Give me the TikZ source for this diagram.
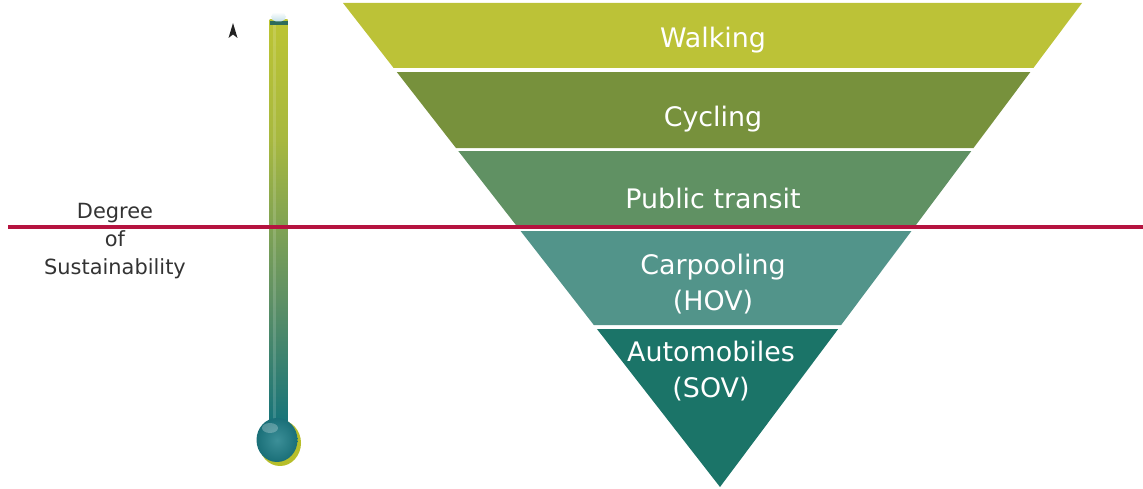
\documentclass[tikz,border=0pt]{standalone}
\usepackage{fontspec}
\setmainfont{DejaVu Sans}
\usetikzlibrary{calc}
\definecolor{cwalk}{HTML}{BCC237}
\definecolor{ccyc}{HTML}{77913C}
\definecolor{cpub}{HTML}{609163}
\definecolor{ccarp}{HTML}{52948A}
\definecolor{cauto}{HTML}{1B7468}
\definecolor{cred}{HTML}{B5133F}
\definecolor{ctext}{HTML}{333333}
\definecolor{tA}{HTML}{BCC433}
\definecolor{tB}{HTML}{A7B83F}
\definecolor{tC}{HTML}{5E9065}
\definecolor{tD}{HTML}{15737A}
\definecolor{bulbY}{HTML}{B7BE2A}
\definecolor{bulbT}{HTML}{1A6F78}
\definecolor{bulbL}{HTML}{3C8F98}
\definecolor{capband}{HTML}{2E6B5A}
\definecolor{capblue}{HTML}{C4E0E8}
\definecolor{tipcol}{HTML}{222222}
\tikzset{
  bandtext/.style={text=white, font=\fontsize{15.3}{20.4}\selectfont, align=center, inner sep=0pt},
  sidetext/.style={text=ctext, font=\fontsize{11.9}{15.9}\selectfont, align=center, inner sep=0pt},
  divider/.style={draw=cred, line width=2.2pt}
}
\begin{document}
\begin{tikzpicture}[x=0.02cm, y=-0.02cm]
\useasboundingbox (0,0) rectangle (1143,489);
% triangle frame
\coordinate (TL) at (343,3);
\coordinate (TR) at (1082,3);
\coordinate (AP) at (720,487);
% bands
\fill[cwalk] (TL) -- (TR) -- ($(TR)!0.1343!(AP)$) -- ($(TL)!0.1343!(AP)$) -- cycle;
\fill[ccyc] ($(TL)!0.1426!(AP)$) -- ($(TR)!0.1426!(AP)$) -- ($(TR)!0.2996!(AP)$) -- ($(TL)!0.2996!(AP)$) -- cycle;
\fill[cpub] ($(TL)!0.3058!(AP)$) -- ($(TR)!0.3058!(AP)$) -- ($(TR)!0.4607!(AP)$) -- ($(TL)!0.4607!(AP)$) -- cycle;
\fill[ccarp] ($(TL)!0.4711!(AP)$) -- ($(TR)!0.4711!(AP)$) -- ($(TR)!0.6653!(AP)$) -- ($(TL)!0.6653!(AP)$) -- cycle;
\fill[cauto] ($(TL)!0.6736!(AP)$) -- ($(TR)!0.6736!(AP)$) -- (AP) -- cycle;
% band labels
\node[bandtext] (walk) at (713,40) {Walking};
\node[bandtext] (cyc) at (713,119) {Cycling};
\node[bandtext] (pub) at (713,198) {Public transit};
\node[bandtext] (carp) at (713,284) {Carpooling\\(HOV)};
\node[bandtext] (auto) at (711,371) {Automobiles\\(SOV)};
% thermometer
\shade[top color=tA, bottom color=tB] (269.5,20) rectangle (287.5,140.5);
\shade[top color=tB, bottom color=tC] (269.5,140) rectangle (287.5,300.5);
\shade[top color=tC, bottom color=tD] (269.5,300) rectangle (287.5,425);
\fill[white, opacity=0.15] (273,24) rectangle (276,420);
\fill[bulbY] (280,443) ellipse [x radius=21, y radius=23];
\shade[inner color=bulbL, outer color=bulbT] (277,440) ellipse [x radius=20.5, y radius=22];
\fill[white, opacity=0.25] (270,428) ellipse [x radius=8, y radius=5];
\fill[capband] (269.5,21) rectangle (287.5,25);
\shade[top color=white, bottom color=capblue, rounded corners=3pt] (271,12) rectangle (286,21.5);
% arrow tip
\fill[tipcol] (233,23) -- (237.5,38) -- (233,34.5) -- (228.5,38) -- cycle;
% side label
\node[sidetext] (deg) at (115,241) {Degree\\of\\Sustainability};
% divider line
\coordinate (dl) at (8,227);
\coordinate (dr) at (1143,227);
\draw[divider] (dl) -- (dr);
\end{tikzpicture}
\end{document}
